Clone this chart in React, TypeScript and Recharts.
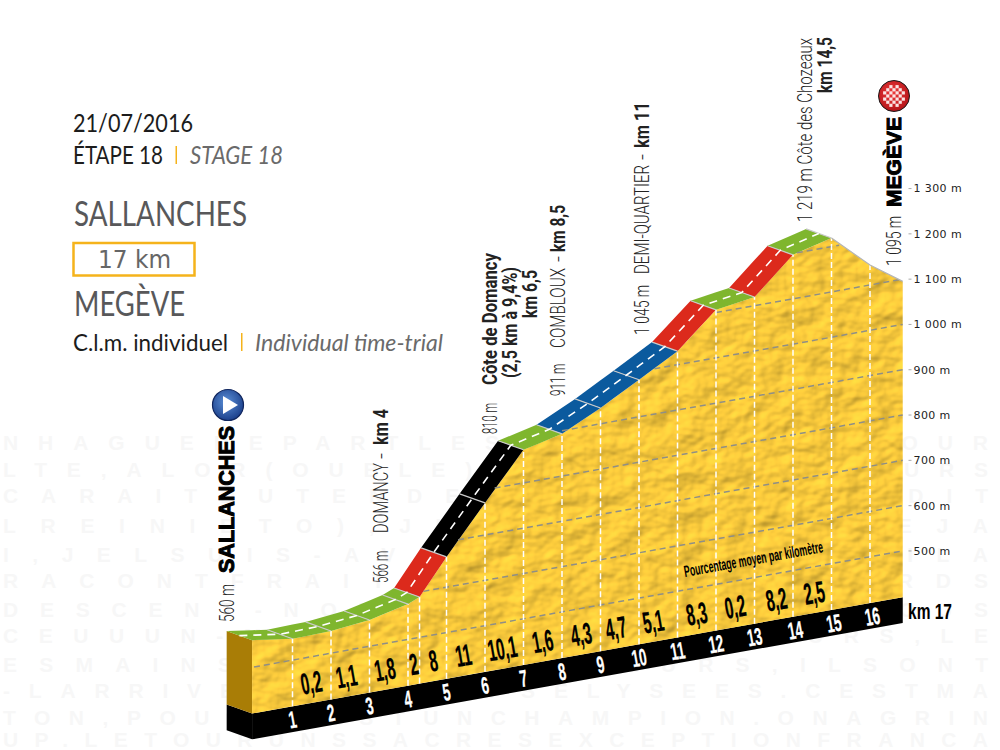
/**
 * Stage profile, Tour de France 2016 stage 18: Sallanches - Megève (time trial)
 * The oblique look is a shear on the values (SHEAR m per km), so all marks still go through the chart scales.
 */
import { ComposedChart, Area, Line, XAxis, YAxis } from 'recharts'

// profile read from the front edge of the road
const profileKm = [-0.05, 1, 2, 3, 4, 4.3, 5, 6, 7, 8, 9, 10, 11, 12, 13, 14, 15, 16, 16.85]
const profileElev = [560, 547, 549, 558, 578, 589, 667, 771, 873, 893, 935, 982, 1030, 1106, 1119, 1197, 1219, 1144, 1095]

const GREEN = '#7fb62e'
const RED = '#dc2a1c'
const BLUE = '#0b5a9e'
const BLACK = '#000000'
const segmentColours = [GREEN, GREEN, GREEN, GREEN, GREEN, RED, BLACK, BLACK, GREEN, BLUE, BLUE, BLUE, RED, GREEN, RED, GREEN]

const elevationTicks = [500, 600, 700, 800, 900, 1000, 1100, 1200, 1300]
const gridStartKm = [0, 4.4, 5.3, 6.25, 8, 10.4, 12, 14.1]
const gridEndKm = [16.85, 16.85, 16.85, 16.85, 16.85, 16.85, 16.85, 15.2]

const kmLabels = [1, 2, 3, 4, 5, 6, 7, 8, 9, 10, 11, 12, 13, 14, 15, 16]
const gradientKm = [1.49, 2.4, 3.4, 4.15, 4.66, 5.44, 6.45, 7.5, 8.5, 9.4, 10.37, 11.5, 12.5, 13.57, 14.55]
const gradientLabels = ['0,2', '1,1', '1,8', '2', '8', '11', '10,1', '1,6', '4,3', '4,7', '5,1', '8,3', '0,2', '8,2', '2,5']

const watermarkRows = [
  'NHAGUEDEPARTLESCOUREURSDUTOUR',
  'LTE,ALOR(OUBLE)ETQUELEPARCOURS',
  'CARAITDUTENDEQUILAVAITETEDIT',
  'LREINIETO),JUNLEMAILLOTDEJA',
  'I,JELSUIS-AVECLEURSAMISVOILA',
  'RACONTFRAITLETOURAUXRECORDS',
  'DESCENT-NOUSAVONSDEBATTUTOUS',
  'CEUUUN-MONPELOTONTOUSLEURS,LE',
  'ESMAINSALEURSCOUREURS,ILSONT',
  '-LARRIVELESCHAMPSELYSEES.CESTMA',
  'TON,POURALESTUNCHAMPION.ONAGRIN',
  'UP.LETOURUNSSACRESEXCEPTIONFRANCA',
]
const watermarkY = [450, 477, 503, 533, 562, 588, 617, 643, 672, 698, 725, 747]

const SHEAR = 15.2 // m per km
const END_KM = 16.85
const BASE_ELEV = 398
const STRIP = 57
const BACK_KM = 0.66
const BACK_UP = 20

type Pt = { x: number; y: number }

const sheared = (km: number, elev: number) => elev + SHEAR * (km - END_KM)
const front: Pt[] = profileKm.map((km, i) => ({ x: km, y: sheared(km, profileElev[i]) }))
const base = (km: number) => sheared(km, BASE_ELEV)

// a face of the road as vertical slices, so it can be drawn as a range Area
function sliceFace(a: Pt, b: Pt) {
  const poly = [{ x: a.x - BACK_KM, y: a.y + BACK_UP }, { x: b.x - BACK_KM, y: b.y + BACK_UP }, b, a]
  const xs = [...new Set(poly.map((p) => p.x))].sort((p, q) => p - q)
  return xs.map((x) => {
    const ys: number[] = []
    poly.forEach((p, i) => {
      const q = poly[(i + 1) % 4]
      if (x < Math.min(p.x, q.x) || x > Math.max(p.x, q.x)) return
      if (p.x === q.x) ys.push(p.y, q.y)
      else ys.push(p.y + ((q.y - p.y) * (x - p.x)) / (q.x - p.x))
    })
    return { x, range: [Math.min(...ys), Math.max(...ys)] }
  })
}

const yellowRows = front.map((p) => ({ x: p.x, range: [base(p.x), p.y] }))
const stripRows = [profileKm[0], END_KM].map((x) => ({ x, range: [base(x) - STRIP, base(x)] }))
const sideRows = sliceFace(front[0], { x: front[0].x, y: base(front[0].x) })
const sideStripRows = sliceFace({ x: front[0].x, y: base(front[0].x) }, { x: front[0].x, y: base(front[0].x) - STRIP })
const roadFaces = segmentColours.map((c, i) => ({ colour: c, rows: sliceFace(front[i], front[i + 1]) }))
const centreRows = front.slice(0, 17).map((p) => ({ x: p.x - BACK_KM / 2, y: p.y + BACK_UP / 2 }))
const kmRows = kmLabels.map((km) => ({ x: km + (km > 13 ? 0.06 : 0), y: base(km) - 29 }))
const gradientRows = gradientKm.map((km) => ({ x: km, y: base(km) + 44 }))

const lineProps = { dataKey: 'y', dot: false, activeDot: false, isAnimationActive: false, legendType: 'none' } as const
const areaProps = { dataKey: 'range', type: 'linear', stroke: 'none', fillOpacity: 1, dot: false, activeDot: false, isAnimationActive: false, legendType: 'none' } as const

const NARROW = '"Liberation Sans", Arial, sans-serif'
const THIN = 'Roboto, sans-serif'
const SQUEEZE = 0.6

function leanLabel(text: string, p: any, size: number, sx: number, fill: string) {
  return (
    <text
      key={p.index}
      transform={`translate(${p.x},${p.y}) rotate(-10) scale(${sx},1)`}
      textAnchor="middle"
      dominantBaseline="central"
      fontFamily={NARROW}
      fontWeight={700}
      fontSize={size}
      fill={fill}
      stroke={fill}
      strokeWidth={0.3}
    >
      {text}
    </text>
  )
}

function Up(props: { x: number; y: number; len: number; size?: number; weight?: number; family?: string; fill?: string; children: string }) {
  const { x, y, len, size = 20, weight = 300, family = THIN, fill = '#222' } = props
  const heavy = weight >= 900
  return (
    <text
      transform={`translate(${x},${y}) rotate(-90) scale(${SQUEEZE},1)`}
      textLength={len / SQUEEZE}
      lengthAdjust="spacingAndGlyphs"
      fontSize={size}
      fontWeight={heavy ? 700 : weight}
      fontFamily={family}
      fill={fill}
      stroke={heavy ? fill : 'none'}
      strokeWidth={heavy ? 1 : 0}
    >
      {props.children}
    </text>
  )
}

// short altitude labels: plain horizontal squeeze
function Alt(props: { x: number; y: number; sx: number; children: string }) {
  return (
    <text
      transform={`translate(${props.x},${props.y}) rotate(-90) scale(${props.sx},1)`}
      fontSize={20}
      fontWeight={300}
      fontFamily={THIN}
      fill="#222"
      xmlSpace="preserve"
    >
      {props.children}
    </text>
  )
}

function Flat(props: { x: number; y: number; len: number; size: number; fill?: string; italic?: boolean; weight?: number; family?: string; children: string }) {
  return (
    <text
      x={props.x}
      y={props.y}
      textLength={props.len}
      lengthAdjust="spacingAndGlyphs"
      fontSize={props.size}
      fontFamily={props.family ?? 'Lato, sans-serif'}
      fontWeight={props.weight ?? 400}
      fontStyle={props.italic ? 'italic' : 'normal'}
      fill={props.fill ?? '#1c1c1c'}
    >
      {props.children}
    </text>
  )
}

function FinishIcon() {
  const cells = []
  for (let r = -3; r <= 3; r++) {
    for (let c = -3; c <= 3; c++) {
      if ((r + c) % 2 === 0 && r * r + c * c <= 12) cells.push(<rect key={`${r}_${c}`} x={894 + c * 3.1 - 1.6} y={96 + r * 3.1 - 1.6} width={3.2} height={3.2} fill="#fbe3e3" />)
    }
  }
  return (
    <g>
      <circle cx={894} cy={96} r={15.5} fill="url(#redBall)" stroke="#1a1a1a" strokeWidth={1} />
      {cells}
    </g>
  )
}

export default function App() {
  return (
    <div style={{ position: 'absolute', left: 0, top: 0, width: 1000, height: 750, overflow: 'hidden', background: '#fff' }}>
      <svg width={1000} height={750} style={{ position: 'absolute', left: 0, top: 0 }}>
        <defs>
          <filter id="relief" x="0" y="0" width="100%" height="100%" colorInterpolationFilters="sRGB">
            <feTurbulence type="fractalNoise" baseFrequency="0.035 0.05" numOctaves={3} seed={7} result="noise" />
            <feDiffuseLighting in="noise" lightingColor="#fbcb3c" surfaceScale={2.4} diffuseConstant={1.12} result="lit">
              <feDistantLight azimuth={225} elevation={62} />
            </feDiffuseLighting>
            <feComposite in="lit" in2="SourceAlpha" operator="in" />
          </filter>
        </defs>
        {watermarkRows.map((row, i) => (
          <text key={i} x={3} y={watermarkY[i]} textLength={985} lengthAdjust="spacing" fontFamily={NARROW} fontWeight={700} fontSize={21} fill="#f7f7f7">
            {row}
          </text>
        ))}
      </svg>

      <div style={{ position: 'absolute', left: 0, top: 0 }}>
        <ComposedChart width={1000} height={750} margin={{ top: 30, right: 0, bottom: 8.8, left: 215.5 }}>
          <XAxis dataKey="x" type="number" domain={[-1, 17]} hide allowDataOverflow />
          <YAxis
            orientation="right"
            width={91.5}
            domain={[80, 1650]}
            ticks={elevationTicks}
            interval={0}
            axisLine={false}
            tickSize={3}
            tickMargin={2}
            tickLine={{ stroke: '#aaa' }}
            tick={{ fontSize: 11, fontFamily: '"DejaVu Sans", sans-serif', fill: '#222', letterSpacing: 0.4 }}
            tickFormatter={(v: number) => `${String(v).replace(/(\d)(\d{3})$/, '$1 $2')} m`}
          />

          <Area {...areaProps} data={stripRows} fill="#000" />
          <Area {...areaProps} data={sideStripRows} fill="#000" />
          <Area {...areaProps} data={sideRows} fill="#a97d06" />
          <Area {...areaProps} data={yellowRows} fill="#f2c431" filter="url(#relief)" />
          {roadFaces.map((f, i) => (
            <Area key={i} {...areaProps} data={f.rows} fill={f.colour} />
          ))}

          {gridStartKm.map((km, i) => (
            <Line
              key={`grid${i}`}
              {...lineProps}
              data={[
                { x: km, y: sheared(km, elevationTicks[i]) },
                { x: gridEndKm[i], y: sheared(gridEndKm[i], elevationTicks[i]) },
              ]}
              stroke="#8f8f86"
              strokeWidth={1.5}
              strokeDasharray="6 4"
            />
          ))}
          {front.slice(1, 18).map((p, i) => (
            <Line
              key={`km${i}`}
              {...lineProps}
              data={[{ x: p.x, y: base(p.x) }, { x: p.x, y: p.y }]}
              stroke="#fff"
              strokeWidth={1.5}
              strokeDasharray="6 3"
            />
          ))}
          {front.slice(1, 17).map((p, i) => (
            <Line
              key={`sep${i}`}
              {...lineProps}
              data={[{ x: p.x, y: p.y }, { x: p.x - BACK_KM, y: p.y + BACK_UP }]}
              stroke="#c9c9c9"
              strokeWidth={1.2}
            />
          ))}
          <Line {...lineProps} data={front.slice(16)} stroke="#b5b5b5" strokeWidth={1.2} />
          <Line {...lineProps} data={centreRows} stroke="#fff" strokeWidth={1.6} strokeDasharray="8 6" />
          <Line
            {...lineProps}
            data={kmRows}
            stroke="none"
            label={(p: any) => leanLabel(String(kmLabels[p.index]), p, 24, 0.56, '#fff')}
          />
          <Line
            {...lineProps}
            data={gradientRows}
            stroke="none"
            label={(p: any) => leanLabel(gradientLabels[p.index], p, 30, 0.5, '#000')}
          />
        </ComposedChart>
      </div>

      <svg width={1000} height={750} style={{ position: 'absolute', left: 0, top: 0, pointerEvents: 'none' }}>
        <defs>
          <radialGradient id="blueBall" cx="45%" cy="40%" r="65%">
            <stop offset="0%" stopColor="#5b8fd6" />
            <stop offset="100%" stopColor="#173a86" />
          </radialGradient>
          <radialGradient id="redBall" cx="45%" cy="40%" r="65%">
            <stop offset="0%" stopColor="#ef3b3b" />
            <stop offset="100%" stopColor="#b01116" />
          </radialGradient>
        </defs>

        <Flat x={73} y={132} len={120} size={25}>21/07/2016</Flat>
        <Flat x={73} y={164} len={90} size={25}>ÉTAPE 18</Flat>
        <rect x={175.5} y={146} width={1.5} height={18} fill="#f5b31b" />
        <Flat x={190} y={164} len={93} size={25} italic fill="#6a6a6a">STAGE 18</Flat>
        <Flat x={74} y={226} len={173} size={34} fill="#58585a">SALLANCHES</Flat>
        <rect x={73.5} y={243} width={121} height={32.5} fill="#fff" stroke="#f5b31b" strokeWidth={2.5} />
        <Flat x={98} y={268} len={73} size={25} fill="#666" family="'DejaVu Sans', sans-serif" weight={400}>17 km</Flat>
        <Flat x={74} y={316} len={111} size={34} fill="#58585a">MEGÈVE</Flat>
        <Flat x={73} y={351} len={155} size={23.5}>C.l.m. individuel</Flat>
        <rect x={241} y={333} width={1.5} height={18} fill="#f5b31b" />
        <Flat x={255} y={351} len={188} size={23.5} italic fill="#6a6a6a">Individual time-trial</Flat>

        <Alt x={234} y={622} sx={0.68}>560 m</Alt>
        <Up x={234} y={573} len={147} size={22} weight={900} family={NARROW} fill="#000">SALLANCHES</Up>
        <circle cx={228} cy={405} r={15.5} fill="url(#blueBall)" stroke="#10265e" strokeWidth={1.2} />
        <path d="M223 396 L238 405 L223 414 Z" fill="#fff" />

        <Alt x={388} y={583} sx={0.58}>566 m</Alt>
        <Up x={388} y={533} len={70}>DOMANCY</Up>
        <Up x={388} y={459} len={6}>-</Up>
        <Up x={388} y={445} len={36} weight={700}>km 4</Up>

        <Alt x={497} y={434} sx={0.56}>810 m</Alt>
        <Up x={497} y={385} len={132} weight={700}>Côte de Domancy</Up>
        <Up x={517} y={378} len={111} weight={700}>(2,5 km à 9,4%)</Up>
        <Up x={537} y={318} len={48} weight={700}>km 6,5</Up>

        <Alt x={565} y={396} sx={0.58}>911 m</Alt>
        <Up x={565} y={348} len={80}>COMBLOUX</Up>
        <Up x={565} y={262} len={6}>-</Up>
        <Up x={565} y={252} len={47} weight={700}>km 8,5</Up>

        <Alt x={649} y={335} sx={0.7}>1 045 m</Alt>
        <Up x={649} y={274} len={109}>DEMI-QUARTIER</Up>
        <Up x={649} y={160} len={6}>-</Up>
        <Up x={649} y={148} len={46} weight={700}>km 11</Up>

        <Up x={812} y={222} len={184}>1 219 m Côte des Chozeaux</Up>
        <Up x={832} y={93} len={56} weight={700}>km 14,5</Up>

        <Alt x={901} y={266} sx={0.7}>1 095 m</Alt>
        <Up x={901} y={207} len={90} size={21} weight={900} family={NARROW} fill="#000">MEGÈVE</Up>
        <FinishIcon />

        <Flat x={908} y={619} len={44} size={22} weight={700} family={NARROW} fill="#000">km 17</Flat>
        <text
          transform="translate(685,577) rotate(-10.2)"
          textLength={141}
          lengthAdjust="spacingAndGlyphs"
          fontSize={16}
          fontWeight={700}
          fontFamily={NARROW}
          fill="#000"
        >
          Pourcentage moyen par kilomètre
        </text>
      </svg>
    </div>
  )
}
